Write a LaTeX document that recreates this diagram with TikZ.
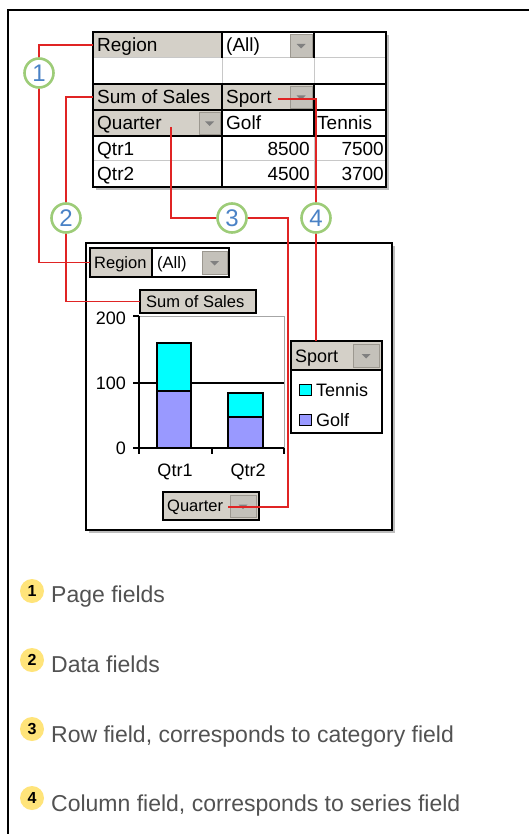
\documentclass[tikz,border=0pt]{standalone}
\usepackage{fontspec}
\setmainfont{Liberation Sans}
\usetikzlibrary{calc}
\pgfdeclarelayer{fg}
\pgfsetlayers{main,fg}
\definecolor{face}{HTML}{D4D0C8}
\definecolor{btn}{HTML}{C4C1BA}
\definecolor{btnedge}{HTML}{9C9890}
\definecolor{tri}{HTML}{808080}
\definecolor{gridgray}{HTML}{C8C8C8}
\definecolor{lav}{HTML}{9999FF}
\definecolor{cyn}{HTML}{00FFFF}
\definecolor{redl}{HTML}{E02424}
\definecolor{ring}{HTML}{9DCC78}
\definecolor{numblue}{HTML}{4A82C6}
\definecolor{yel}{HTML}{FFE47A}
\definecolor{legtxt}{HTML}{525252}
\definecolor{shadowc}{HTML}{BDBDBD}
\newcommand\ddtri[1]{\fill[tri] ($(#1.center)+(-4.5,-1.5)$) -- ++(9,0) -- ++(-4.5,4.5) -- cycle;}
\begin{document}
\begin{tikzpicture}[x=1pt,y=-1pt,
  nw/.style={anchor=north west, inner sep=0pt, outer sep=0pt},
  t19/.style={font=\fontsize{19}{21}\selectfont, inner sep=0pt, anchor=base west},
  t17/.style={font=\fontsize{16.5}{18}\selectfont, inner sep=0pt, anchor=base west},
  t18/.style={font=\fontsize{18}{20}\selectfont, inner sep=0pt, anchor=base},
  ddbtn/.style={nw, fill=btn, draw=btnedge, line width=0.8pt},
  gline/.style={draw=gridgray, line width=1pt},
  bline/.style={draw=black, line width=1.3pt},
  fbtn/.style={nw, fill=face, draw=black, line width=1.6pt},
  redline/.style={draw=redl, line width=1.8pt},
  callout/.style={circle, draw=ring, line width=2.6pt, fill=white, minimum size=29pt, inner sep=0pt, text=numblue, font=\fontsize{24}{24}\selectfont},
  ynum/.style={circle, fill=yel, minimum size=24pt, inner sep=0pt, font=\bfseries\fontsize{16}{16}\selectfont},
  ltext/.style={anchor=base west, inner sep=0pt, text=legtxt, font=\fontsize{23}{25}\selectfont}]
\useasboundingbox (0,0) rectangle (528,834);
\fill[white] (0,0) rectangle (528,834);
% frame
\draw[line width=2.4pt] (530,10) -- (8,10) -- (8,836);

% ---------- pivot table ----------
\fill[shadowc] (96,35) rectangle (389,190);
\node[nw, fill=white, minimum width=293pt, minimum height=155pt] (tbl) at (93,32) {};
\node[nw, fill=face, minimum width=129pt, minimum height=26pt] (tRegion) at (93,32) {};
\node[nw, fill=face, minimum width=129pt, minimum height=26pt] (tSum) at (93,84) {};
\node[nw, fill=face, minimum width=92pt, minimum height=26pt] (tSport) at (222,84) {};
\node[nw, fill=face, minimum width=129pt, minimum height=26pt] (tQuarter) at (93,110) {};
\draw[gline] (93,58) -- (386,58) (222,58) -- (222,84) (314,58) -- (314,84)
  (93,161) -- (386,161) (314,136) -- (314,187);
\draw[bline] (93,84) -- (386,84) (93,110) -- (386,110) (93,136) -- (386,136)
  (222,32) -- (222,58) (222,84) -- (222,187) (314,32) -- (314,58) (314,84) -- (314,136);
\draw[bline] (tbl.north west) rectangle (tbl.south east);
\node[ddbtn, minimum width=22pt, minimum height=23pt] (tAllBtn) at (290,34) {};
\ddtri{tAllBtn}
\node[ddbtn, minimum width=22pt, minimum height=22pt] (tSportBtn) at (290,86) {};
\ddtri{tSportBtn}
\node[ddbtn, minimum width=21pt, minimum height=22pt] (tQuarterBtn) at (199,112) {};
\ddtri{tQuarterBtn}
\node[t19] (tx1) at (97,51.8) {Region};
\node[t19] (tx2) at (226,51.8) {(All)};
\node[t19] (tx3) at (97,103.8) {Sum of Sales};
\node[t19] (tx4) at (226,103.8) {Sport};
\node[t19] (tx5) at (97,129.8) {Quarter};
\node[t19] (tx6) at (226,129.8) {Golf};
\node[t19] (tx7) at (317,129.8) {Tennis};
\node[t19] (tx8) at (97,155.3) {Qtr1};
\node[t19] (tx9) at (97,180.8) {Qtr2};
\node[t19, anchor=base east] (n1) at (310,155.3) {8500};
\node[t19, anchor=base east] (n2) at (384,155.3) {7500};
\node[t19, anchor=base east] (n3) at (310,180.8) {4500};
\node[t19, anchor=base east] (n4) at (384,180.8) {3700};

% ---------- pivot chart ----------
\fill[shadowc] (89,246) rectangle (395,533);
\node[nw, fill=white, draw=black, line width=1.3pt, minimum width=306pt, minimum height=287pt] (chart) at (86,243) {};
\node[fbtn, minimum width=62pt, minimum height=29pt] (cRegion) at (90,248) {};
\node[nw, fill=white, draw=black, line width=1.6pt, minimum width=77pt, minimum height=29pt] (cAll) at (152,248) {};
\node[ddbtn, minimum width=25pt, minimum height=23pt] (cAllBtn) at (202,251) {};
\ddtri{cAllBtn}
\node[t17] (cx1) at (94,268.4) {Region};
\node[t17] (cx2) at (157,268.4) {(All)};
\node[fbtn, minimum width=116pt, minimum height=23pt] (cSum) at (140,290) {};
\node[t17] (cx3) at (146,307.4) {Sum of Sales};
% plot
\draw[gray!70, line width=1pt] (139,316) -- (284,316) -- (284,448);
\draw[black, line width=1.2pt] (139,383) -- (284,383);
\filldraw[fill=lav, draw=black, line width=1.3pt] (157,448) rectangle (191,391);
\filldraw[fill=cyn, draw=black, line width=1.3pt] (157,391) rectangle (191,343);
\filldraw[fill=lav, draw=black, line width=1.3pt] (228,448) rectangle (263,417);
\filldraw[fill=cyn, draw=black, line width=1.3pt] (228,417) rectangle (263,393);
\draw[black, line width=1.3pt] (139,316) -- (139,448) -- (284,448);
\draw[black, line width=1.3pt] (133,316) -- (139,316) (133,383) -- (139,383) (133,448) -- (139,448)
  (139,448) -- (139,454) (212,448) -- (212,454) (284,448) -- (284,454);
\node[t18, anchor=base east] (y2) at (126,324.5) {200};
\node[t18, anchor=base east] (y1) at (126,389.5) {100};
\node[t18, anchor=base east] (y0) at (126,454.5) {0};
\node[t18] (q1) at (175,476.5) {Qtr1};
\node[t18] (q2) at (248,476.5) {Qtr2};
% legend
\node[fbtn, minimum width=91pt, minimum height=29pt] (cSport) at (291,341) {};
\node[ddbtn, minimum width=26pt, minimum height=23pt] (cSportBtn) at (353,344) {};
\ddtri{cSportBtn}
\node[t18, anchor=base west] (cx4) at (295,362) {Sport};
\node[nw, fill=white, draw=black, line width=1.3pt, minimum width=91pt, minimum height=63pt] (cLeg) at (291,370) {};
\filldraw[fill=cyn, draw=black, line width=1pt] (299,384) rectangle (311,395);
\filldraw[fill=lav, draw=black, line width=1pt] (299,414) rectangle (311,425);
\node[t18, anchor=base west] (l1) at (316,396) {Tennis};
\node[t18, anchor=base west] (l2) at (316,426) {Golf};
% quarter button
\node[fbtn, minimum width=96pt, minimum height=28pt] (cQuarter) at (163,492) {};
\node[ddbtn, minimum width=26pt, minimum height=22pt] (cQuarterBtn) at (230,495) {};
\ddtri{cQuarterBtn}
\node[t17] (cx5) at (167,511.9) {Quarter};

% ---------- callouts ----------
\begin{pgfonlayer}{fg}
\node[callout] (c1) at (39,73) {1};
\node[callout] (c2) at (66,218) {2};
\node[callout] (c3) at (232,218) {3};
\node[callout] (c4) at (316,218) {4};
\end{pgfonlayer}
\coordinate (q3s) at (171,127);
\coordinate (q3k) at (288,507);
\coordinate (q3e) at (228,507);
\coordinate (s4) at (278,99);
\draw[redline] (tRegion.west) -- (tRegion.west -| c1.center) -- (cRegion.west -| c1.center) -- (cRegion.west);
\draw[redline] (tSum.west) -- (tSum.west -| c2.center) -- (cSum.west -| c2.center) -- (cSum.west);
\draw[redline] (q3s) |- (c3.center) -| (q3k) -- (q3e);
\draw[redline] (s4) -- (s4 -| c4.center) -- (c4.center |- cSport.north);

% ---------- key ----------
\node[ynum] (b1) at (32,591) {1};
\node[ynum] (b2) at (32,660) {2};
\node[ynum] (b3) at (32,729) {3};
\node[ynum] (b4) at (32,798) {4};
\node[ltext] (k1) at (51,602) {Page fields};
\node[ltext] (k2) at (51,672) {Data fields};
\node[ltext] (k3) at (51,742) {Row field, corresponds to category field};
\node[ltext] (k4) at (51,811) {Column field, corresponds to series field};
\end{tikzpicture}
\end{document}
